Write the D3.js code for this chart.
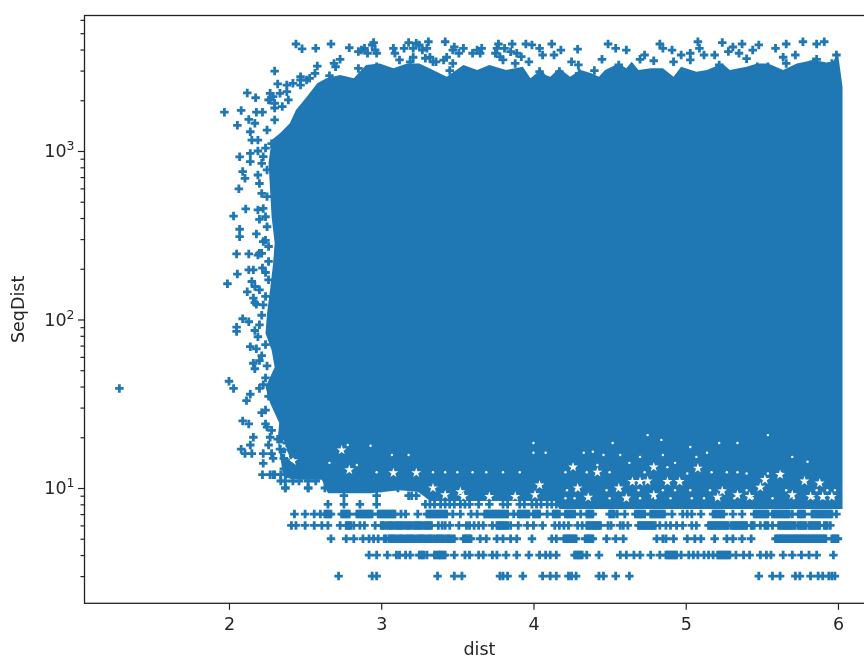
<!DOCTYPE html>
<html>
<head>
	<meta charset="utf-8">
	<title>SeqDist vs dist</title>
	<style>
		html, body { margin: 0; background: #fff; overflow: hidden; }
		svg { display: block; filter: blur(0.45px); }
		text { font-family: "DejaVu Sans", sans-serif; fill: #262626; }
	</style>
</head>
<body>
<script src="https://cdn.jsdelivr.net/npm/d3@7"></script>
<script>
	// 轴刻度
	const distTicks = [2, 3, 4, 5, 6]
	const seqMajorTicks = [10, 100, 1000]
	const seqTickExps = ["1", "2", "3"]
	const seqMinorTicks = [3, 4, 5, 6, 7, 8, 9, 20, 30, 40, 50, 60, 70, 80, 90, 200, 300, 400, 500, 600, 700, 800, 900, 2000, 3000, 4000, 5000, 6000]

	// 下方的整数行 -- 每行是该 SeqDist 上各点的 dist
	const row3 = [2.72, 2.94, 2.97, 3.37, 3.48, 3.53, 3.78, 3.80, 3.83, 3.93, 4.06, 4.11, 4.15, 4.23, 4.25, 4.28, 4.43, 4.46, 4.54, 4.63, 5.48, 5.57, 5.62, 5.72, 5.75, 5.82, 5.87, 5.90, 5.94, 5.96, 5.98]
	const row4 = [2.92, 2.97, 3.04, 3.10, 3.12, 3.16, 3.19, 3.25, 3.26, 3.27, 3.28, 3.30, 3.35, 3.36, 3.375, 3.38, 3.39, 3.40, 3.41, 3.42, 3.48, 3.55, 3.58, 3.64, 3.67, 3.73, 3.76, 3.82, 3.89, 3.97, 4.04, 4.08, 4.11, 4.15, 4.27, 4.28, 4.29, 4.30, 4.31, 4.32, 4.35, 4.43, 4.57, 4.61, 4.66, 4.70, 4.77, 4.83, 4.87, 4.88, 4.89, 4.90, 4.91, 4.92, 4.93, 4.94, 4.97, 5.02, 5.05, 5.08, 5.12, 5.15, 5.18, 5.21, 5.22, 5.23, 5.24, 5.25, 5.26, 5.27, 5.28, 5.29, 5.33, 5.38, 5.42, 5.49, 5.53, 5.56, 5.64, 5.70, 5.76, 5.81, 5.86, 5.97]
	const row5 = [2.67, 2.77, 2.82, 2.88, 2.92, 2.95, 2.98, 3.02, 3.03, 3.05, 3.06, 3.07, 3.08, 3.09, 3.105, 3.12, 3.13, 3.14, 3.155, 3.17, 3.18, 3.19, 3.20, 3.21, 3.225, 3.24, 3.25, 3.26, 3.27, 3.28, 3.295, 3.31, 3.32, 3.33, 3.345, 3.36, 3.37, 3.38, 3.39, 3.40, 3.415, 3.43, 3.44, 3.45, 3.465, 3.48, 3.54, 3.55, 3.56, 3.57, 3.58, 3.59, 3.65, 3.69, 3.76, 3.80, 3.85, 3.89, 3.99, 4.12, 4.15, 4.20, 4.21, 4.22, 4.23, 4.24, 4.25, 4.26, 4.27, 4.28, 4.34, 4.35, 4.36, 4.37, 4.38, 4.39, 4.48, 4.54, 4.59, 4.81, 4.85, 4.87, 4.92, 5.01, 5.06, 5.10, 5.19, 5.27, 5.31, 5.37, 5.43, 5.59, 5.60, 5.61, 5.62, 5.63, 5.64, 5.65, 5.66, 5.67, 5.68, 5.69, 5.70, 5.71, 5.72, 5.73, 5.74, 5.75, 5.76, 5.77, 5.78, 5.79, 5.80, 5.81, 5.82, 5.83, 5.84, 5.85, 5.86, 5.87, 5.88, 5.89, 5.90, 5.91, 5.92, 5.96, 5.97, 5.98, 5.99, 6.00]
	const row6 = [2.41, 2.44, 2.50, 2.56, 2.61, 2.65, 2.73, 2.77, 2.78, 2.79, 2.80, 2.82, 2.86, 2.89, 2.96, 3.00, 3.01, 3.02, 3.035, 3.05, 3.06, 3.07, 3.085, 3.10, 3.11, 3.12, 3.13, 3.14, 3.155, 3.17, 3.18, 3.19, 3.205, 3.22, 3.23, 3.24, 3.25, 3.26, 3.275, 3.29, 3.30, 3.31, 3.32, 3.33, 3.375, 3.40, 3.42, 3.45, 3.51, 3.56, 3.58, 3.61, 3.64, 3.67, 3.73, 3.76, 3.77, 3.78, 3.79, 3.80, 3.81, 3.82, 3.83, 3.85, 3.90, 3.96, 4.00, 4.06, 4.14, 4.17, 4.20, 4.23, 4.29, 4.32, 4.35, 4.36, 4.37, 4.38, 4.39, 4.40, 4.41, 4.42, 4.43, 4.44, 4.49, 4.51, 4.57, 4.59, 4.62, 4.69, 4.70, 4.71, 4.72, 4.73, 4.74, 4.75, 4.76, 4.77, 4.78, 4.79, 4.80, 4.83, 4.87, 4.90, 4.94, 4.98, 5.04, 5.07, 5.15, 5.16, 5.17, 5.18, 5.19, 5.20, 5.21, 5.22, 5.23, 5.24, 5.25, 5.26, 5.27, 5.28, 5.30, 5.31, 5.32, 5.33, 5.34, 5.35, 5.36, 5.37, 5.38, 5.39, 5.40, 5.43, 5.44, 5.45, 5.49, 5.52, 5.53, 5.54, 5.57, 5.61, 5.62, 5.63, 5.64, 5.65, 5.66, 5.67, 5.68, 5.69, 5.70, 5.71, 5.72, 5.74, 5.75, 5.76, 5.77, 5.78, 5.79, 5.81, 5.82, 5.83, 5.84, 5.85, 5.86, 5.87, 5.88, 5.91, 5.92, 5.93, 5.95]
	const row7 = [2.43, 2.50, 2.56, 2.60, 2.63, 2.64, 2.65, 2.66, 2.67, 2.74, 2.75, 2.76, 2.77, 2.78, 2.79, 2.84, 2.85, 2.86, 2.87, 2.88, 2.89, 2.90, 2.91, 2.92, 2.93, 2.94, 2.98, 2.99, 3.00, 3.01, 3.02, 3.03, 3.04, 3.05, 3.06, 3.07, 3.08, 3.09, 3.13, 3.16, 3.24, 3.30, 3.31, 3.32, 3.33, 3.34, 3.35, 3.36, 3.37, 3.38, 3.39, 3.40, 3.41, 3.42, 3.43, 3.47, 3.52, 3.59, 3.63, 3.68, 3.69, 3.70, 3.71, 3.72, 3.73, 3.74, 3.75, 3.76, 3.77, 3.78, 3.79, 3.80, 3.81, 3.82, 3.83, 3.87, 3.90, 3.91, 3.92, 3.93, 3.94, 3.95, 3.96, 3.97, 4.00, 4.01, 4.02, 4.03, 4.04, 4.09, 4.13, 4.14, 4.15, 4.16, 4.17, 4.21, 4.22, 4.23, 4.24, 4.25, 4.26, 4.27, 4.31, 4.35, 4.36, 4.37, 4.38, 4.39, 4.50, 4.51, 4.52, 4.53, 4.55, 4.60, 4.67, 4.68, 4.69, 4.70, 4.71, 4.72, 4.73, 4.77, 4.78, 4.79, 4.80, 4.81, 4.82, 4.83, 4.84, 4.85, 4.86, 4.91, 4.98, 5.01, 5.04, 5.10, 5.18, 5.19, 5.20, 5.21, 5.22, 5.23, 5.24, 5.25, 5.31, 5.37, 5.45, 5.46, 5.47, 5.48, 5.49, 5.50, 5.51, 5.52, 5.53, 5.54, 5.57, 5.58, 5.59, 5.60, 5.61, 5.62, 5.63, 5.64, 5.65, 5.66, 5.67, 5.68, 5.70, 5.74, 5.75, 5.76, 5.77, 5.78, 5.83, 5.84, 5.85, 5.86, 5.87, 5.88, 5.89, 5.90, 5.91, 5.92, 5.93, 5.94, 5.95, 5.96, 5.99]
	const row8 = [2.65, 2.755, 2.86, 2.97, 3.29, 3.32, 3.35, 3.39, 3.42, 3.45, 3.48, 3.52, 3.55, 3.58, 3.64, 3.71, 3.80, 3.83, 3.91, 3.94, 3.99, 4.02, 4.05, 4.09, 4.12, 4.15]
	const row9 = [2.755, 2.97, 3.18, 3.20, 3.23]
	const row10 = [2.37, 2.52, 2.63, 2.66, 2.74, 2.83, 2.89, 3.00, 3.11]
	const row11 = [2.34, 2.37, 2.42, 2.46, 2.52, 2.57]
	const row12 = [2.27, 2.30, 2.34, 2.37, 2.41, 2.45, 2.48, 2.52, 2.56, 2.60]

	// 上方和左侧的散点 [dist, SeqDist]
	const topFringe = [[2.44, 4316], [2.48, 4040], [2.57, 4064], [2.67, 4316], [2.79, 4100], [2.85, 3890], [2.89, 4064], [2.95, 4400], [2.91, 3800], [2.97, 3800], [2.69, 3310], [2.73, 3500], [2.70, 3160], [2.58, 3190], [2.30, 2980], [2.47, 2760], [2.66, 2800], [2.565, 2890], [2.85, 3090], [3.08, 4064], [3.18, 4400], [3.15, 4064], [3.23, 4360], [3.31, 4450], [3.27, 3970], [3.42, 4450], [3.48, 4140], [3.43, 3600], [3.47, 3970], [3.54, 4064], [3.63, 3970], [3.66, 4064], [3.75, 3800], [3.77, 4316], [3.86, 4316], [3.80, 3470], [3.89, 3800], [3.95, 4316], [3.21, 3600], [3.12, 3470], [3.32, 3600], [3.45, 3000], [2.97, 3160], [3.34, 3380],
		[2.87, 3975], [2.94, 4255], [2.96, 3975], [3.09, 3800], [3.21, 4065], [3.19, 3380], [3.25, 4255], [3.30, 4065], [3.29, 3550], [3.36, 3380], [3.41, 3461], [3.47, 3308], [3.51, 3800], [3.60, 3800], [3.65, 3800], [3.76, 4065], [3.81, 4065], [3.78, 3630], [3.85, 3885], [3.88, 3308], [3.92, 3630], [3.97, 3380],
		[3.99, 4260], [4.04, 4064], [4.06, 3710], [4.12, 4316], [4.135, 3710], [4.18, 3970], [4.29, 4020], [4.49, 4316], [4.54, 4064], [4.61, 3970], [4.83, 4316], [4.85, 4064], [4.91, 3970], [4.97, 3710], [5.03, 3800], [5.08, 4450], [5.09, 4064], [5.12, 3710], [5.19, 3710], [5.24, 4400], [5.28, 3890], [5.31, 4140], [5.37, 4316], [5.35, 3800], [5.40, 3530], [5.48, 4260], [5.44, 3970], [5.59, 4064], [5.66, 4316], [5.77, 4450], [5.86, 4316], [5.91, 4450], [5.64, 3600], [5.72, 3710], [5.86, 3500], [5.99, 3710], [4.25, 3380], [4.295, 3240], [4.45, 3500], [4.40, 3000], [4.73, 3710], [4.79, 3430], [4.70, 3500], [4.56, 3240], [4.04, 2960], [4.17, 2960], [4.30, 2890], [4.92, 3380], [5.03, 3470], [5.22, 3240], [5.47, 3160], [5.54, 3160], [5.66, 3310], [5.84, 3380], [5.96, 3310]]
	const cornerFringe = [[2.32, 2500], [2.12, 2210], [2.175, 2070], [2.27, 2198], [2.38, 2250], [2.42, 2520], [2.51, 2638], [1.97, 1700], [2.08, 1740], [2.18, 1700], [2.22, 1700], [2.30, 1800], [2.055, 1420], [2.13, 1540], [2.17, 1460], [2.14, 1300], [2.27, 2009], [2.29, 2100], [2.47, 2460],
		[2.335, 2198], [2.38, 2460], [2.47, 2638], [2.53, 2700], [2.26, 2009], [2.30, 1920], [2.25, 1330], [2.30, 1528], [2.35, 1834], [2.39, 2009]]
	const leftFringe = [[2.07, 923], [2.14, 967], [2.14, 865], [2.09, 755], [2.105, 688], [2.065, 596], [2.215, 845], [2.19, 720], [2.215, 560], [2.11, 453], [2.03, 411], [2.19, 447], [2.20, 393], [2.07, 343], [2.07, 310], [2.18, 322], [2.225, 290], [2.05, 245], [2.13, 245], [2.20, 247], [2.13, 197], [2.16, 197], [2.22, 202], [2.055, 186], [1.99, 163], [2.15, 168], [2.17, 157], [2.12, 146], [2.16, 134], [2.15, 1160], [2.19, 1160], [2.24, 1040], [2.28, 1105],
		[2.19, 1000], [2.225, 925], [2.25, 772], [2.20, 641], [2.25, 536], [2.225, 456], [2.24, 407], [2.25, 355], [2.24, 295], [2.26, 271], [2.215, 247], [2.26, 221], [2.19, 241], [2.24, 190], [2.26, 172], [2.20, 150], [2.24, 137],
		[2.17, 126], [2.225, 122], [2.09, 101], [2.13, 97], [2.05, 90], [2.05, 85], [2.17, 86], [2.20, 93], [2.14, 69], [2.18, 67], [2.16, 55], [2.17, 51], [2.20, 57], [2.00, 43], [2.03, 39], [2.14, 36], [2.20, 39], [2.115, 33], [2.215, 28], [2.09, 25], [2.13, 24], [2.24, 24], [2.16, 20], [2.27, 20], [2.08, 17], [2.14, 18], [2.105, 16], [2.15, 16], [2.225, 16], [2.28, 16], [2.225, 14], [2.22, 12], [2.29, 12], [2.36, 15], [2.42, 16], [2.37, 10], [2.52, 10], [2.40, 13], [2.47, 13],
		[2.18, 123], [2.215, 106], [2.19, 79], [2.24, 71], [2.215, 61], [2.25, 53], [2.24, 45], [2.225, 41], [2.26, 35], [2.24, 29], [2.25, 23], [2.28, 22], [2.26, 18], [2.32, 19.5], [2.335, 17], [2.38, 18.5], [2.29, 15], [2.39, 14], [2.36, 13]]
	const outlier = [[1.28, 39]]

	// 点太密连成一片的区域轮廓 [dist, SeqDist]：上沿、右沿、下沿、左沿
	const denseOutline = [[2.28, 1162], [2.335, 1273], [2.40, 1460], [2.44, 1750], [2.51, 2090], [2.58, 2520], [2.64, 2700], [2.73, 2820], [2.82, 2700], [2.90, 3240], [2.99, 3308], [3.08, 3094], [3.17, 3308], [3.25, 3308], [3.34, 3025], [3.43, 2762], [3.54, 3240], [3.63, 3025], [3.71, 3240], [3.82, 3025], [3.93, 3162],
		[3.98, 2700], [4.02, 2890], [4.04, 3094], [4.08, 2820], [4.11, 2762], [4.17, 3094], [4.24, 2762], [4.31, 3025], [4.38, 2890], [4.43, 2762], [4.47, 3025], [4.56, 3308], [4.61, 3094], [4.645, 3380], [4.69, 3025], [4.77, 3094], [4.85, 3094], [4.92, 2762], [4.97, 3162], [5.07, 2957], [5.14, 3025], [5.24, 3308], [5.29, 3025], [5.40, 3162], [5.47, 3308], [5.54, 3308], [5.64, 3025], [5.73, 3308], [5.84, 3461], [5.96, 3308], [6.00, 3800], [6.03, 2409],
		[6.03, 7.5], [4.17, 7.5], [4.14, 8.37], [3.32, 8.37], [3.29, 8.8], [3.24, 9.5], [3.12, 9.7], [2.93, 9.3], [2.65, 9.3], [2.61, 11.2], [2.47, 11.2], [2.37, 11.5],
		[2.35, 12.8], [2.32, 19.3], [2.33, 24.3], [2.27, 32], [2.24, 39.8], [2.30, 52], [2.28, 66], [2.24, 83], [2.25, 109], [2.27, 150], [2.29, 216], [2.30, 284], [2.28, 406], [2.27, 587], [2.26, 849]]

	// 密集区里露出白底的空隙 [dist, SeqDist]
	const wideGaps = [[3.34, 10], [3.52, 9.5], [3.54, 8.9], [3.42, 9.1], [3.71, 8.9], [3.88, 8.9], [4.04, 10.4], [4.01, 9.1], [4.29, 10], [4.36, 8.8], [4.56, 10], [4.61, 8.7], [4.79, 9.1], [4.70, 10.9], [4.65, 10.9], [4.75, 11], [4.88, 10.9], [4.96, 10.9], [5.08, 13.1], [4.79, 13.3], [4.26, 13.3], [4.42, 12.4], [5.34, 9.1], [5.49, 10.1], [5.52, 11.2], [5.70, 9.1], [5.78, 11], [5.88, 10.7], [5.82, 8.9], [5.90, 8.9], [5.96, 8.9], [5.21, 8.8], [5.24, 9.6], [5.42, 8.9], [5.62, 12], [2.74, 16.8], [3.23, 12.3], [2.79, 12.8], [3.08, 12.3], [2.38, 15.7], [2.42, 14.5], [2.36, 18]]
	const smallGaps = [[4.52, 18.5], [4.39, 16.4], [4.33, 16.2], [4.46, 15.7], [4.57, 15.7], [4.70, 15.3], [4.85, 15.7], [5.03, 17.5], [5.07, 15.3], [5.14, 16.2], [5.22, 18.5], [5.34, 18.5], [5.54, 20.6], [5.70, 15.3], [5.80, 14.3], [4.75, 20.6], [4.84, 19.3], [4.21, 12.4], [4.27, 13.3], [4.35, 12.4], [4.42, 13.7], [4.50, 12.4], [4.63, 14.1], [4.73, 12.4], [4.88, 13.3], [4.93, 14.1], [5.01, 12.2], [5.17, 12.4], [5.27, 12.4], [5.34, 12.4], [5.40, 12.2], [5.54, 12.2], [5.63, 12.2], [2.78, 18], [2.93, 17.8], [3.07, 15.7], [3.18, 15.7], [3.34, 12.4], [3.42, 12.4], [3.50, 12.4], [3.60, 12.4], [3.69, 12.4], [3.80, 12.4], [3.91, 12.4], [4.00, 16.2], [4.08, 16.2], [4.00, 18.5], [2.66, 14.1], [2.84, 13.7], [2.97, 12.4],
		[4.21, 8.7], [4.27, 8.7], [4.36, 8.7], [4.50, 8.7], [4.62, 8.7], [4.70, 8.7], [4.80, 8.7], [4.90, 8.7], [5.04, 8.7], [5.12, 8.7], [5.20, 8.7], [5.32, 8.7], [5.44, 8.7], [5.57, 8.7], [5.71, 8.7], [5.84, 8.7], [5.90, 8.7], [5.97, 8.7],
		[4.22, 9.7], [4.28, 9.7], [4.48, 9.7], [4.57, 9.7], [4.69, 9.7], [4.85, 9.7], [4.93, 9.7], [5.03, 9.7], [5.16, 9.7], [5.25, 9.7], [5.40, 9.7], [5.66, 9.7], [5.86, 9.7], [5.93, 9.7], [5.98, 9.7]]

	const intRows = [[3, row3], [4, row4], [5, row5], [6, row6], [7, row7], [8, row8], [9, row9], [10, row10], [11, row11], [12, row12]]
	const rowPoints = intRows.flatMap(([seq, dists]) => dists.map(d => [d, seq]))
	const allPoints = rowPoints.concat(topFringe, cornerFringe, leftFringe, outlier)

	const chartW = 864, chartH = 659
	const color = "#1f77b4"

	const svg = d3.select("body")
		.append("svg")
			.attr("width", chartW)
			.attr("height", chartH)

	// 比例尺
	const scX = d3.scaleLinear().domain([1.051, 6.24]).range([84.5, 874.5])
	const scY = d3.scaleLog().domain([2.069, 6368]).range([603.3, 15.5])
	const plotL = scX.range()[0], plotR = scX.range()[1]
	const plotB = scY.range()[0], plotT = scY.range()[1]

	const place = d => `translate(${scX(d[0])},${scY(d[1])})`

	// 密集区
	svg.append("path")
		.attr("id", "dense")
		.attr("fill", color)
		.attr("d", d3.line().x(d => scX(d[0])).y(d => scY(d[1])).curve(d3.curveLinearClosed)(denseOutline))

	// 空隙
	svg.append("g").attr("id", "gaps").attr("fill", "#fff")
		.selectAll("path")
		.data(wideGaps).enter()
		.append("path")
			.attr("d", d3.symbol(d3.symbolStar).size(30)())
			.attr("transform", place)
	svg.select("#gaps")
		.selectAll("circle")
		.data(smallGaps).enter()
		.append("circle")
			.attr("r", 1.2)
			.attr("cx", d => scX(d[0]))
			.attr("cy", d => scY(d[1]))

	// 散点
	svg.append("g").attr("id", "points").attr("fill", color)
		.selectAll("path")
		.data(allPoints).enter()
		.append("path")
			.attr("d", d3.symbol(d3.symbolCross).size(40)())
			.attr("transform", place)

	// 坐标轴
	const axX = svg.append("g")
		.attr("transform", `translate(0,${plotB})`)
		.call(d3.axisBottom(scX).tickValues(distTicks).tickFormat(d3.format("d")).tickSize(6.5).tickPadding(8))
	const axY = svg.append("g")
		.attr("transform", `translate(${plotL},0)`)
		.call(d3.axisLeft(scY).tickValues(seqMajorTicks).tickFormat("").tickSize(6.5))
	svg.append("g")
		.attr("transform", `translate(${plotL},0)`)
		.call(d3.axisLeft(scY).tickValues(seqMinorTicks).tickFormat("").tickSize(4))
		.call(g => g.select(".domain").remove())

	svg.selectAll(".domain").remove()
	svg.selectAll(".tick line").attr("stroke", "#222").attr("stroke-width", 1.2)
	axX.selectAll("text").attr("font-size", 17.5).attr("fill", "#262626")

	// 10^n 形式的刻度文字
	axY.selectAll(".tick").each(function(d, i) {
		let t = d3.select(this).select("text")
			.attr("x", -10)
			.attr("dy", "0.32em")
			.attr("font-size", 17.5)
			.attr("text-anchor", "end")
			.attr("fill", "#262626")
		t.append("tspan").text("10")
		t.append("tspan").attr("font-size", 12.5).attr("dy", "-0.55em").text(seqTickExps[i])
	})

	// 边框 -- 右边框在画面之外
	svg.append("rect")
		.attr("x", plotL).attr("y", plotT)
		.attr("width", plotR - plotL).attr("height", plotB - plotT)
		.attr("fill", "none").attr("stroke", "#222").attr("stroke-width", 1.3)

	// 轴标题
	svg.append("text")
		.attr("x", (plotL + plotR) / 2).attr("y", 655)
		.attr("text-anchor", "middle").attr("font-size", 17.5)
		.text("dist")
	svg.append("text")
		.attr("transform", `translate(24,${(plotT + plotB) / 2}) rotate(-90)`)
		.attr("text-anchor", "middle").attr("font-size", 17.5)
		.text("SeqDist")
</script>
</body>
</html>
